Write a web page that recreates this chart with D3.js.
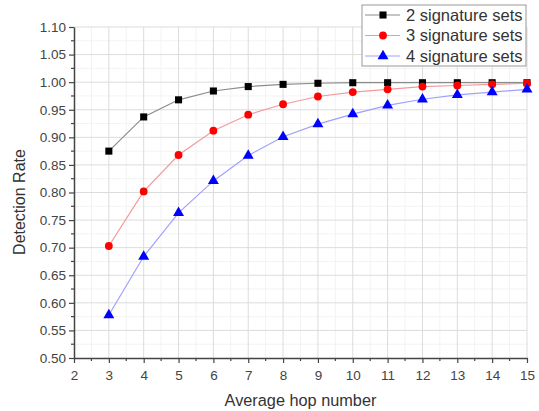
<!DOCTYPE html>
<html>
<head>
<meta charset="utf-8">
<script src="https://cdn.jsdelivr.net/npm/d3@7"></script>
<style>
  body { margin: 0; background: #fff; }
  svg { font-family: "Liberation Sans", Arial, sans-serif; }
</style>
</head>
<body>
<div id="chart"></div>
<script>
// values
var hops = [3, 4, 5, 6, 7, 8, 9, 10, 11, 12, 13, 14, 15];
var sets2 = [0.875, 0.937, 0.968, 0.984, 0.992, 0.996, 0.998, 0.999, 0.999, 0.999, 0.999, 0.999, 0.999];
var sets3 = [0.703, 0.802, 0.868, 0.912, 0.941, 0.960, 0.974, 0.982, 0.987, 0.992, 0.994, 0.996, 0.998];
var sets4 = [0.578, 0.684, 0.763, 0.821, 0.867, 0.901, 0.924, 0.942, 0.958, 0.969, 0.977, 0.982, 0.987];
var seriesNames = ["2 signature sets", "3 signature sets", "4 signature sets"];
var xTicks = [2, 3, 4, 5, 6, 7, 8, 9, 10, 11, 12, 13, 14, 15];
var yTicks = [0.50, 0.55, 0.60, 0.65, 0.70, 0.75, 0.80, 0.85, 0.90, 0.95, 1.00, 1.05, 1.10];

function drawChart(targetID){
    var margin = {top: 27, right: 12, bottom: 53, left: 74},
        width = 539 - margin.left - margin.right,
        height = 411 - margin.top - margin.bottom;

    var x = d3.scaleLinear().domain([2, 15]).range([0, width]);
    var y = d3.scaleLinear().domain([0.5, 1.1]).range([height, 0]);

    var svg = d3.select(targetID).append("svg")
        .attr("width", width + margin.left + margin.right)
        .attr("height", height + margin.top + margin.bottom)
      .append("g")
        .attr("transform", "translate(" + margin.left + "," + margin.top + ")");

    // minor grid
    var xMinor = d3.range(2.5, 15, 1), yMinor = d3.range(0.525, 1.1, 0.05);
    svg.append("g").selectAll("line").data(xMinor).enter().append("line")
        .attr("x1", function(d) { return x(d); }).attr("x2", function(d) { return x(d); })
        .attr("y1", 0).attr("y2", height)
        .style("stroke", "#f3f3f3");
    svg.append("g").selectAll("line").data(yMinor).enter().append("line")
        .attr("y1", function(d) { return y(d); }).attr("y2", function(d) { return y(d); })
        .attr("x1", 0).attr("x2", width)
        .style("stroke", "#f3f3f3");

    // major grid
    svg.append("g").selectAll("line").data(xTicks.slice(1)).enter().append("line")
        .attr("x1", function(d) { return x(d); }).attr("x2", function(d) { return x(d); })
        .attr("y1", 0).attr("y2", height)
        .style("stroke", "#dcdcdc");
    svg.append("g").selectAll("line").data(yTicks.slice(1)).enter().append("line")
        .attr("y1", function(d) { return y(d); }).attr("y2", function(d) { return y(d); })
        .attr("x1", 0).attr("x2", width)
        .style("stroke", "#dcdcdc");

    // axes
    var xAxis = d3.axisBottom(x).tickValues(xTicks).tickFormat(d3.format("d")).tickSize(5).tickSizeOuter(0);
    var yAxis = d3.axisLeft(y).tickValues(yTicks).tickFormat(d3.format(".2f")).tickSize(5).tickSizeOuter(0);

    var gx = svg.append("g").attr("transform", "translate(0," + height + ")").call(xAxis);
    gx.append("g").selectAll("line").data(xMinor).enter().append("line")
        .attr("x1", function(d) { return x(d); }).attr("x2", function(d) { return x(d); })
        .attr("y1", 0).attr("y2", 3);
    var gy = svg.append("g").call(yAxis);
    gy.append("g").selectAll("line").data(yMinor).enter().append("line")
        .attr("y1", function(d) { return y(d); }).attr("y2", function(d) { return y(d); })
        .attr("x1", 0).attr("x2", -3);

    [gx, gy].forEach(function(g) {
        g.selectAll("path").style("stroke", "#444").style("stroke-width", 1.5);
        g.selectAll("line").style("stroke", "#444").style("stroke-width", 1.2);
        g.selectAll("text").style("fill", "#444").style("font-size", "13.5px")
            .style("font-family", "'Liberation Sans', Arial, sans-serif");
    });
    gx.selectAll(".tick text").attr("dy", "1.0em");

    svg.append("text")
        .attr("x", width / 2).attr("y", height + 48)
        .attr("text-anchor", "middle")
        .style("font-size", "16.3px").style("fill", "#333")
        .text("Average hop number");
    svg.append("text")
        .attr("transform", "rotate(-90)")
        .attr("x", -(202 - margin.top)).attr("y", -49)
        .attr("text-anchor", "middle")
        .style("font-size", "16px").style("fill", "#333")
        .text("Detection Rate");

    var series = [
        {name: seriesNames[0], values: sets2, line: "#8c8c8c", fill: "#000", shape: d3.symbolSquare, size: 50},
        {name: seriesNames[1], values: sets3, line: "#f29a9a", fill: "#ff0000", shape: d3.symbolCircle, size: 48},
        {name: seriesNames[2], values: sets4, line: "#a0a0ff", fill: "#0000ff", shape: d3.symbolTriangle, size: 52}
    ];

    var line = d3.line()
        .x(function(d, i) { return x(hops[i]); })
        .y(function(d) { return y(d); });

    series.forEach(function(s) {
        svg.append("path").datum(s.values)
            .attr("d", line)
            .style("fill", "none").style("stroke", s.line).style("stroke-width", 1.2);
        svg.selectAll(null).data(s.values).enter().append("path")
            .attr("transform", function(d, i) { return "translate(" + x(hops[i]) + "," + y(d) + ")"; })
            .attr("d", d3.symbol().type(s.shape).size(s.size))
            .style("fill", s.fill);
    });

    // legend
    var lg = svg.append("g").attr("transform", "translate(" + (362 - margin.left) + "," + (5 - margin.top) + ")");
    lg.append("rect").attr("width", 164).attr("height", 61)
        .style("fill", "#fff").style("stroke", "#999").style("stroke-width", 1);
    series.forEach(function(s, i) {
        var ly = 10 + i * 20.5;
        lg.append("line").attr("x1", 3).attr("x2", 38).attr("y1", ly).attr("y2", ly)
            .style("stroke", s.line).style("stroke-width", 1.2);
        lg.append("path").attr("transform", "translate(21," + ly + ")")
            .attr("d", d3.symbol().type(s.shape).size(s.size))
            .style("fill", s.fill);
        lg.append("text").attr("x", 44).attr("y", ly).attr("dy", "0.36em")
            .style("font-size", "16.5px").style("fill", "#333")
            .text(s.name);
    });
}

drawChart("#chart");
</script>
</body>
</html>
